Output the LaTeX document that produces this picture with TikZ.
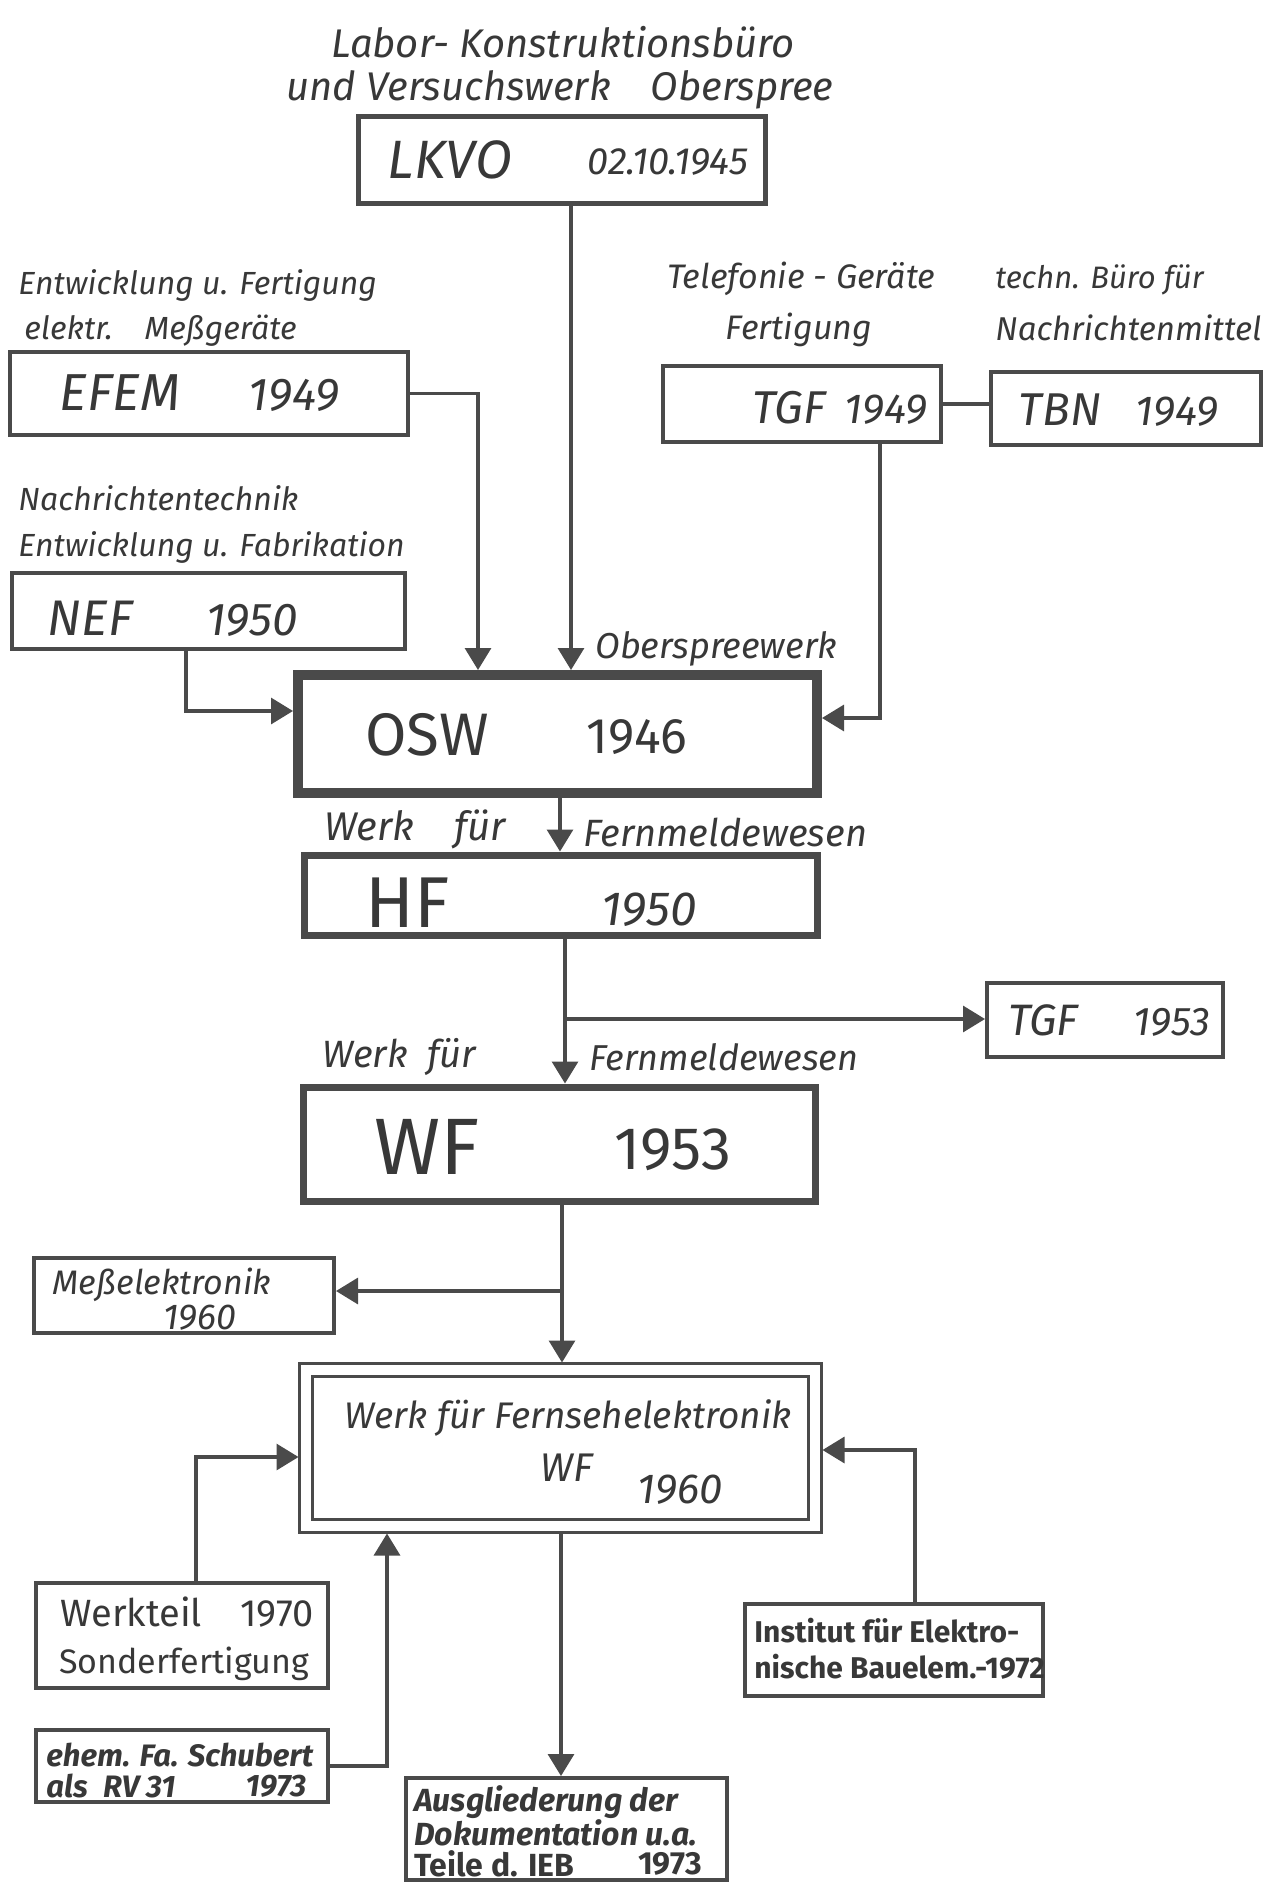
\documentclass[tikz,border=0pt]{standalone}
\usepackage{fontspec}
\setmainfont{Fira Sans}
\usetikzlibrary{arrows.meta,fit}
\definecolor{ink}{HTML}{4A4A4A}
\definecolor{txt}{HTML}{383838}
\newcommand{\fsz}[1]{\fontsize{#1pt}{#1pt}\selectfont}
\tikzset{
  box/.style={draw=ink, line width=2pt, inner sep=0pt},
  conn/.style={draw=ink, line width=1.6pt},
  tip/.style={-{Triangle[width=13pt,length=11pt]}},
  lbl/.style={text=txt, inner sep=0pt},
}
\begin{document}
\begin{tikzpicture}[x=0.5pt,y=-0.5pt]
\useasboundingbox[fill=white] (0,0) rectangle (1277,1883);

% boxes
\node[box, line width=2.5pt, fit={(358,117) (765,204)}] (lkvo) {};
\node[box, fit={(10,352) (408,435)}] (efem) {};
\node[box, fit={(12,573) (405,649)}] (nef) {};
\node[box, fit={(663,366) (941,442)}] (tgf) {};
\node[box, fit={(991,372) (1261,445)}] (tbn) {};
\node[box, line width=5pt, fit={(298,675) (817,793)}] (osw) {};
\node[box, line width=3.5pt, fit={(304,855) (817,935)}] (hf) {};
\node[box, fit={(987,983) (1223,1057)}] (tgfb) {};
\node[box, line width=3.5pt, fit={(303,1087) (815,1201)}] (wf) {};
\node[box, fit={(34,1258) (334,1333)}] (mess) {};
\node[box, line width=1.5pt, double=white, double distance=5pt, fit={(306,1370) (815,1526)}] (wfs) {};
\node[box, fit={(36,1583) (328,1688)}] (werk) {};
\node[box, fit={(36,1730) (328,1802)}] (ehem) {};
\node[box, fit={(745,1604) (1043,1696)}] (inst) {};
\node[box, fit={(406,1778) (727,1880)}] (ausg) {};

% connectors
\coordinate (m1) at (571,0);
\draw[conn,tip] (lkvo.south -| m1) -- (osw.north -| m1);
\coordinate (m2) at (478,0);
\draw[conn,tip] (efem.east) -| (osw.north -| m2);
\coordinate (m3) at (186,711);
\draw[conn,tip] (nef.south -| m3) |- (osw.west |- m3);
\coordinate (m4) at (880,718);
\draw[conn,tip] (tgf.south -| m4) |- (osw.east |- m4);
\draw[conn] (tgf.east) -- (tbn.west |- tgf.east);
\coordinate (m5) at (560,0);
\draw[conn,tip] (osw.south -| m5) -- (hf.north -| m5);
\coordinate (m6) at (565,1019);
\draw[conn,tip] (hf.south -| m6) -- (wf.north -| m6);
\draw[conn,tip] (m6) -- (tgfb.west |- m6);
\coordinate (m7) at (562,1291);
\draw[conn,tip,shorten >=3pt] (wf.south -| m7) -- (wfs.north -| m7);
\draw[conn,tip] (m7) -- (mess.east |- m7);
\coordinate (m8) at (196,1457);
\draw[conn,tip,shorten >=3pt] (werk.north -| m8) |- (wfs.west |- m8);
\coordinate (m9) at (387,0);
\draw[conn,tip,shorten >=3pt] (ehem.east) -| (wfs.south -| m9);
\coordinate (m10) at (915,1450);
\draw[conn,tip,shorten >=3pt] (inst.north -| m10) |- (wfs.east |- m10);
\coordinate (m11) at (561,0);
\draw[conn,tip] ([yshift=-3pt]wfs.south -| m11) -- (ausg.north -| m11);

% texts
\node[lbl, font=\fsz{20}\itshape] (ti1) at (563,42) {Labor- Konstruktionsbüro};
\node[lbl, font=\fsz{20}\itshape] (ti2) at (560,90) {und Versuchswerk\quad Oberspree};
\node[lbl, font=\fsz{27}\itshape] (tlkvo) at (450,160) {LKVO};
\node[lbl, font=\fsz{19}\itshape] (tlkvod) at (668,162) {02.10.1945};

\node[lbl, anchor=west, font=\fsz{16}\itshape] (te1) at (18,285) {Entwicklung u. Fertigung};
\node[lbl, anchor=west, font=\fsz{16}\itshape] (te2) at (24,331) {elektr.\quad Meßgeräte};
\node[lbl, font=\fsz{26}\itshape] (tefem) at (120,393) {EFEM};
\node[lbl, font=\fsz{23}\itshape] (tefemd) at (294,395) {1949};

\node[lbl, anchor=west, font=\fsz{16}\itshape] (tn1) at (18,498) {Nachrichtentechnik};
\node[lbl, anchor=west, font=\fsz{16}\itshape] (tn2) at (18,547) {Entwicklung u. Fabrikation};
\node[lbl, font=\fsz{25}\itshape] (tnef) at (90,618) {NEF};
\node[lbl, font=\fsz{23}\itshape] (tnefd) at (252,620) {1950};

\node[lbl, anchor=west, font=\fsz{17}\itshape] (tt1) at (667,279) {Telefonie - Geräte};
\node[lbl, font=\fsz{17}\itshape] (tt2) at (799,330) {Fertigung};
\node[lbl, font=\fsz{23}\itshape] (ttgf) at (789,408) {TGF};
\node[lbl, font=\fsz{21}\itshape] (ttgfd) at (886,410) {1949};

\node[lbl, anchor=west, font=\fsz{15.5}\itshape] (tb1) at (995,280) {techn. Büro für};
\node[lbl, anchor=west, font=\fsz{16.5}\itshape] (tb2) at (995,328) {Nachrichtenmittel};
\node[lbl, font=\fsz{23}\itshape] (ttbn) at (1060,410) {TBN};
\node[lbl, font=\fsz{21}\itshape] (ttbnd) at (1177,412) {1949};

\node[lbl, anchor=west, font=\fsz{18}\itshape] (tow) at (595,649) {Oberspreewerk};
\node[lbl, font=\fsz{30}] (tosw) at (427,735) {OSW};
\node[lbl, font=\fsz{25}] (toswd) at (637,737) {1946};

\node[lbl, anchor=west, font=\fsz{20}\itshape] (tw1) at (324,829) {Werk\quad für};
\node[lbl, anchor=west, font=\fsz{19}\itshape] (tw2) at (583,832) {Fernmeldewesen};
\node[lbl, font=\fsz{36}] (thf) at (408,903) {HF};
\node[lbl, font=\fsz{24}\itshape] (thfd) at (649,910) {1950};

\node[lbl, font=\fsz{22}\itshape] (ttgfb) at (1043,1020) {TGF};
\node[lbl, font=\fsz{20}\itshape] (ttgfbd) at (1172,1022) {1953};

\node[lbl, anchor=west, font=\fsz{19}\itshape] (tw3) at (322,1057) {Werk\enspace für};
\node[lbl, anchor=west, font=\fsz{18}\itshape] (tw4) at (589,1057) {Fernmeldewesen};
\node[lbl, font=\fsz{40}] (twf) at (427,1147) {WF};
\node[lbl, font=\fsz{30}] (twfd) at (673,1150) {1953};

\node[lbl, font=\fsz{17}\itshape] (tm1) at (162,1285) {Meßelektronik};
\node[lbl, font=\fsz{18}\itshape] (tm2) at (200,1318) {1960};

\node[lbl, font=\fsz{18.5}\itshape] (tf1) at (568,1418) {Werk für Fernsehelektronik};
\node[lbl, font=\fsz{20}\itshape] (tf2) at (567,1468) {WF};
\node[lbl, font=\fsz{21}\itshape] (tf3) at (680,1490) {1960};

\node[lbl, anchor=west, font=\fsz{19}] (tk1) at (60,1612) {Werkteil};
\node[lbl, font=\fsz{19}] (tk1b) at (277,1614) {1970};
\node[lbl, font=\fsz{17}] (tk2) at (184,1664) {Sonderfertigung};

\node[lbl, anchor=west, font=\fsz{15.5}\bfseries\itshape] (th1) at (46,1755) {ehem. Fa. Schubert};
\node[lbl, anchor=west, font=\fsz{15.5}\bfseries\itshape] (th2) at (46,1786) {als\enspace RV 31};
\node[lbl, font=\fsz{15.5}\bfseries\itshape] (th3) at (276,1786) {1973};

\node[lbl, anchor=west, font=\fsz{15}\bfseries] (ti3) at (754,1631) {Institut für Elektro-};
\node[lbl, anchor=west, font=\fsz{15}\bfseries] (ti4) at (754,1667) {nische Bauelem.-1972};

\node[lbl, anchor=west, font=\fsz{16}\bfseries\itshape] (ta1) at (414,1802) {Ausgliederung der};
\node[lbl, anchor=west, font=\fsz{16}\bfseries\itshape] (ta2) at (414,1833) {Dokumentation u.a.};
\node[lbl, anchor=west, font=\fsz{16}\bfseries] (ta3) at (414,1864) {Teile d. IEB};
\node[lbl, font=\fsz{16}\bfseries] (ta4) at (670,1864) {1973};
\end{tikzpicture}
\end{document}
